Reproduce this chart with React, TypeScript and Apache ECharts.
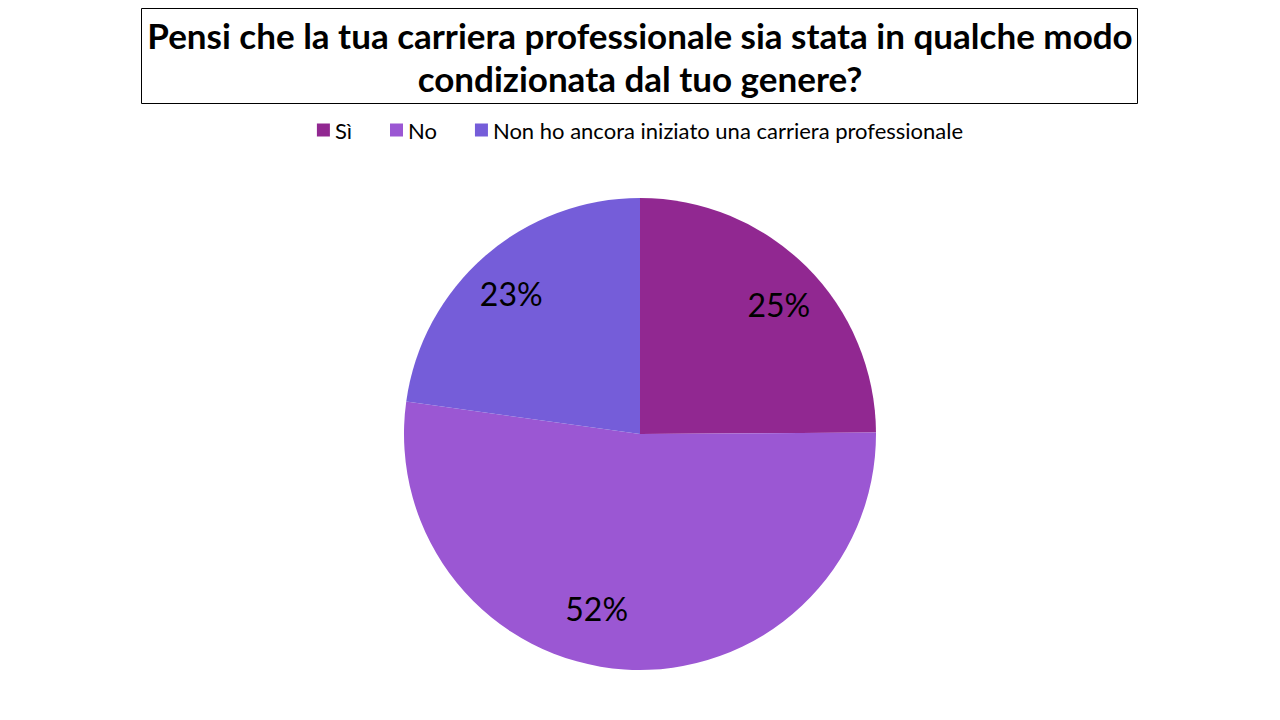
import React, { useEffect, useRef } from "react";
import * as echarts from "echarts";

const categories = ["Sì", "No", "Non ho ancora iniziato una carriera professionale"];
const values = [24.9, 52.3, 22.8];
const colors = ["#912891", "#9B57D3", "#755DD9"];
const titleLines = ["Pensi che la tua carriera professionale sia stata in qualche modo", "condizionata dal tuo genere?"];
const labelOffsets = [[7, 3], [-31, -12], [-6, 1]];

export default function App() {
  const ref = useRef<HTMLDivElement>(null);
  useEffect(() => {
    document.body.style.margin = "0";
    const chart = echarts.init(ref.current!, null, { renderer: "svg" });
    const data = categories.map((name, i) => ({ name, value: values[i] }));
    const labelData = categories.map((name, i) => ({
      name,
      value: values[i],
      label: { offset: labelOffsets[i] },
    }));
    const font = "Lato, 'Open Sans', sans-serif";
    chart.setOption({
      animation: false,
      color: colors,
      graphic: [
        {
          type: "rect",
          shape: { x: 141.5, y: 8.5, width: 996, height: 95 },
          style: { fill: "#fff", stroke: "#000", lineWidth: 1 },
          z: 0,
        },
        {
          type: "text",
          x: 640,
          y: 56,
          style: {
            text: titleLines.join("\n"),
            fontFamily: font,
            fontWeight: "bold",
            fontSize: 35,
            lineHeight: 43,
            fill: "#000",
            align: "center",
            verticalAlign: "middle",
          },
          z: 1,
        },
      ],
      legend: {
        data: categories,
        top: 119,
        left: "center",
        padding: 0,
        itemWidth: 13,
        itemHeight: 13,
        itemGap: 38,
        icon: "rect",
        textStyle: { fontFamily: font, fontSize: 22, color: "#000" },
      },
      series: [
        {
          type: "pie",
          center: [640, 434],
          radius: [0, 236],
          startAngle: 90,
          clockwise: true,
          label: { show: false },
          labelLine: { show: false },
          emphasis: { disabled: true },
          itemStyle: { borderWidth: 0 },
          data,
        },
        {
          type: "pie",
          center: [640, 434],
          radius: [132, 236],
          startAngle: 90,
          clockwise: true,
          silent: true,
          itemStyle: { color: "rgba(0,0,0,0)", borderWidth: 0 },
          label: {
            show: true,
            position: "inside",
            formatter: (p: any) => Math.round(p.percent) + "%",
            fontFamily: font,
            fontSize: 32,
            color: "#000",
          },
          labelLine: { show: false },
          emphasis: { disabled: true },
          data: labelData,
        },
      ],
    });
    return () => chart.dispose();
  }, []);
  return <div ref={ref} style={{ width: 1280, height: 720 }} />;
}
